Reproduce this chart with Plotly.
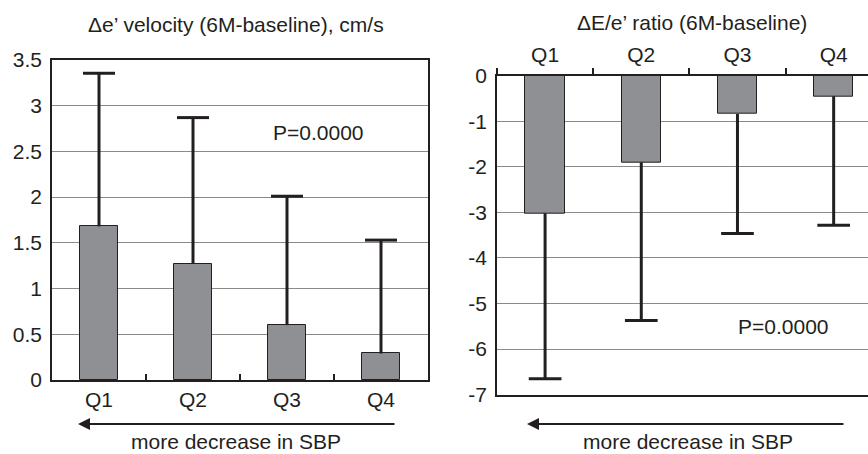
import plotly.graph_objects as go

# ---- data ----
categories = ["Q1", "Q2", "Q3", "Q4"]
ev_mean = [1.68, 1.27, 0.60, 0.29]      # delta e' velocity
ev_sd = [1.675, 1.60, 1.41, 1.24]
ee_mean = [-3.02, -1.90, -0.84, -0.45]  # delta E/e' ratio
ee_sd = [3.63, 3.47, 2.62, 2.83]
ev_ticks = [0, 0.5, 1, 1.5, 2, 2.5, 3, 3.5]
ee_ticks = [0, -1, -2, -3, -4, -5, -6, -7]
title_left = "\u0394e\u2019 velocity (6M-baseline), cm/s"
title_right = "\u0394E/e\u2019 ratio (6M-baseline)"
p_text = "P=0.0000"
arrow_text = "more decrease in SBP"

W, H = 868, 454
FONT = "Liberation Sans, Arial, sans-serif"
FS = 21
TXT = "#231f20"
BAR = "#8f9094"
GRID = "#8a8a8a"
CAP = 0.17

pos = list(range(len(categories)))
bounds = [p + 0.5 for p in pos[:-1]]


def err_path(means, sds, sign):
    xs, ys = [], []
    for i, (m, s) in zip(pos, zip(means, sds)):
        end = m + sign * s
        xs += [i, i, None, i - CAP, i + CAP, None]
        ys += [m, end, None, end, end, None]
    return xs, ys


fig = go.Figure()
fig.add_trace(go.Bar(x=pos, y=ev_mean, width=0.41, marker=dict(color=BAR, line=dict(color=TXT, width=1)),
                     xaxis="x", yaxis="y", showlegend=False, hoverinfo="skip"))
ex, ey = err_path(ev_mean, ev_sd, 1)
fig.add_trace(go.Scatter(x=ex, y=ey, mode="lines", line=dict(color=TXT, width=3),
                         xaxis="x", yaxis="y", showlegend=False, hoverinfo="skip"))

fig.add_trace(go.Bar(x=pos, y=ee_mean, width=0.41, marker=dict(color=BAR, line=dict(color=TXT, width=1)),
                     xaxis="x2", yaxis="y2", showlegend=False, hoverinfo="skip"))
ex2, ey2 = err_path(ee_mean, ee_sd, -1)
fig.add_trace(go.Scatter(x=ex2, y=ey2, mode="lines", line=dict(color=TXT, width=3),
                         xaxis="x2", yaxis="y2", showlegend=False, hoverinfo="skip"))

axfont = dict(family=FONT, size=FS, color=TXT)

fig.update_layout(
    template="none",
    width=W, height=H, margin=dict(l=0, r=0, t=0, b=0, autoexpand=False),
    paper_bgcolor="white", plot_bgcolor="white",
    font=axfont, bargap=0,
    xaxis=dict(domain=[52 / W, 428 / W], range=[-0.5, 3.5], anchor="y", automargin=False,
               tickvals=pos, ticktext=categories, ticks="", tickfont=axfont,
               showline=True, linecolor=TXT, linewidth=1.5, mirror=True,
               showgrid=False, zeroline=False, ticklabelstandoff=0,
               minor=dict(tickmode="array", tickvals=bounds, ticks="inside", ticklen=6,
                          tickwidth=1.5, tickcolor=TXT, showgrid=False)),
    yaxis=dict(domain=[(H - 380) / H, (H - 60) / H], range=[0, 3.5], anchor="x", automargin=False,
               tickvals=ev_ticks, ticktext=[f"{v:g}" for v in ev_ticks], ticks="",
               tickfont=axfont, showgrid=True, gridcolor=GRID, gridwidth=1,
               showline=True, linecolor=TXT, linewidth=1.5, mirror=True,
               zeroline=False, ticklabelstandoff=4),
    xaxis2=dict(domain=[497 / W, 1.0], range=[-0.5, 3.357], anchor="y2", side="top", automargin=False,
                tickvals=pos, ticktext=categories, ticks="", tickfont=axfont,
                showline=True, linecolor=TXT, linewidth=1.5, mirror=True,
                showgrid=False, zeroline=False, ticklabelstandoff=4,
                minor=dict(tickmode="array", tickvals=[-0.5] + bounds, ticks="outside", ticklen=6,
                           tickwidth=1.5, tickcolor=TXT, showgrid=False)),
    yaxis2=dict(domain=[(H - 394.7) / H, (H - 75.7) / H], range=[-7, 0], anchor="x2", automargin=False,
                tickvals=ee_ticks, ticktext=[f"{v:g}" for v in ee_ticks], ticks="",
                tickfont=axfont, showgrid=True, gridcolor=GRID, gridwidth=1,
                showline=True, linecolor=TXT, linewidth=1.5, mirror=False,
                zeroline=False, ticklabelstandoff=4),
)

ann = []
ann.append(dict(text=title_left, x=236 / W, y=(H - 25) / H, xref="paper", yref="paper",
                showarrow=False, xanchor="center", yanchor="middle", font=axfont))
ann.append(dict(text=title_right, x=692 / W, y=(H - 23) / H, xref="paper", yref="paper",
                showarrow=False, xanchor="center", yanchor="middle", font=axfont))
ann.append(dict(text=p_text, x=318 / W, y=(H - 133) / H, xref="paper", yref="paper",
                showarrow=False, xanchor="center", yanchor="middle", font=axfont))
ann.append(dict(text=p_text, x=783 / W, y=(H - 327) / H, xref="paper", yref="paper",
                showarrow=False, xanchor="center", yanchor="middle", font=axfont))
for head, tail, cx in [(78, 396, 236), (527, 845, 688)]:
    ann.append(dict(text="", x=head / W, y=(H - 424) / H, xref="paper", yref="paper",
                    ax=tail - head, ay=0, axref="pixel", ayref="pixel",
                    showarrow=True, arrowhead=2, arrowsize=1.2, arrowwidth=2, arrowcolor=TXT,
                    standoff=0, startstandoff=0))
    ann.append(dict(text=arrow_text, x=cx / W, y=0, xref="paper", yref="paper",
                    showarrow=False, xanchor="center", yanchor="bottom", borderpad=0,
                    font=axfont))
fig.update_layout(annotations=ann)

fig.write_html("out.html")
